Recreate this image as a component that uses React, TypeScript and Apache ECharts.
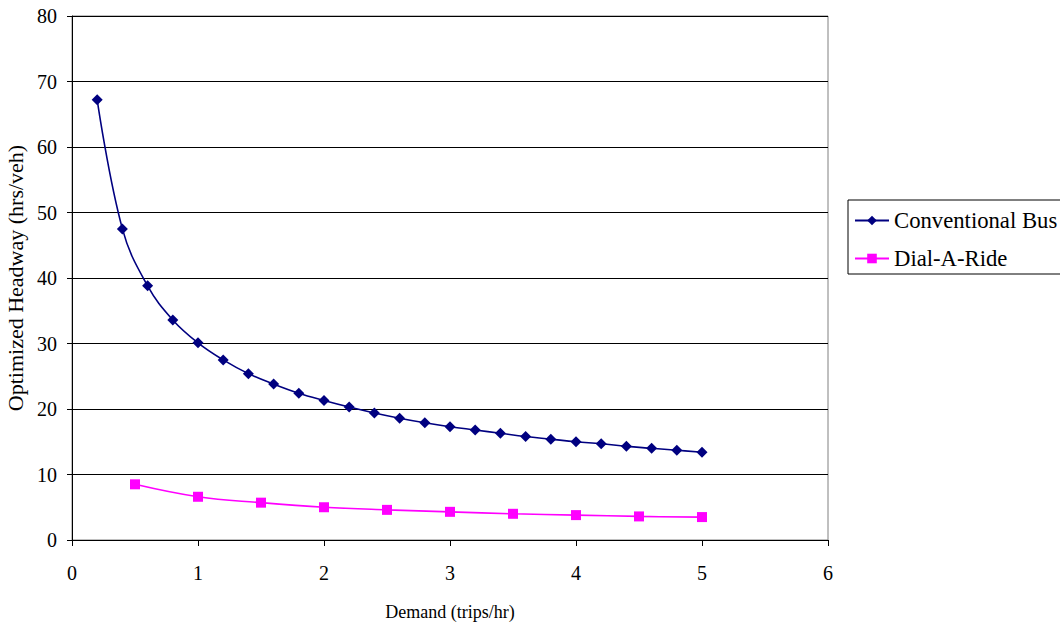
import React, { useEffect, useRef } from "react";
import * as echarts from "echarts";

const busX = [0.2, 0.4, 0.6, 0.8, 1.0, 1.2, 1.4, 1.6, 1.8, 2.0, 2.2, 2.4, 2.6, 2.8, 3.0, 3.2, 3.4, 3.6, 3.8, 4.0, 4.2, 4.4, 4.6, 4.8, 5.0];
const busY = [67.2, 47.5, 38.8, 33.6, 30.1, 27.5, 25.4, 23.8, 22.4, 21.3, 20.3, 19.4, 18.6, 17.9, 17.3, 16.8, 16.3, 15.8, 15.4, 15.0, 14.7, 14.3, 14.0, 13.7, 13.4];
const darX = [0.5, 1.0, 1.5, 2.0, 2.5, 3.0, 3.5, 4.0, 4.5, 5.0];
const darY = [8.5, 6.6, 5.7, 5.0, 4.6, 4.3, 4.0, 3.8, 3.6, 3.5];

const FONT = "Times New Roman, Liberation Serif, DejaVu Serif, serif";

export default function App() {
  const ref = useRef<HTMLDivElement>(null);
  useEffect(() => {
    const chart = echarts.init(ref.current!, null, { renderer: "svg" });
    chart.setOption({
      animation: false,
      backgroundColor: "#ffffff",
      textStyle: { fontFamily: FONT, color: "#000" },
      grid: {
        left: 72, top: 16, right: 232, bottom: 86,
        containLabel: false,
        outerBoundsMode: "none",
        show: true, borderColor: "#808080", borderWidth: 1,
      },
      legend: {
        orient: "vertical",
        left: 848, top: 200,
        width: 240,
        backgroundColor: "#fff",
        borderColor: "#000", borderWidth: 1, borderRadius: 0,
        padding: [9, 8, 4, 6],
        itemGap: 15,
        itemWidth: 34, itemHeight: 12,
        textStyle: { fontFamily: FONT, fontSize: 22.7, lineHeight: 22, color: "#000" },
        data: ["Conventional Bus", "Dial-A-Ride"],
      },
      xAxis: {
        type: "value",
        min: 0, max: 6, interval: 1,
        name: "Demand (trips/hr)",
        nameLocation: "middle",
        nameGap: 63,
        nameTextStyle: { fontFamily: FONT, fontSize: 18, color: "#000" },
        axisLine: { show: true, onZero: false, lineStyle: { color: "#000", width: 1 } },
        axisTick: { show: true, inside: false, length: 6, lineStyle: { color: "#000" } },
        axisLabel: { fontFamily: FONT, fontSize: 20, color: "#000", margin: 23 },
        splitLine: { show: false },
      },
      yAxis: {
        type: "value",
        min: 0, max: 80, interval: 10,
        name: "Optimized Headway (hrs/veh)",
        nameLocation: "middle",
        nameGap: 41,
        nameRotate: 90,
        nameTextStyle: { fontFamily: FONT, fontSize: 22, color: "#000" },
        axisLine: { show: true, lineStyle: { color: "#000", width: 1 } },
        axisTick: { show: true, inside: false, length: 5, lineStyle: { color: "#000" } },
        axisLabel: { fontFamily: FONT, fontSize: 20, color: "#000", margin: 15 },
        splitLine: { show: true, lineStyle: { color: "#000", width: 1 } },
      },
      series: [
        {
          name: "Conventional Bus",
          type: "line",
          smooth: 0.4,
          data: busX.map((x, i) => [x, busY[i]]),
          symbol: "diamond",
          symbolSize: 11,
          lineStyle: { color: "#000080", width: 1.6 },
          itemStyle: { color: "#000080" },
          z: 3,
        },
        {
          name: "Dial-A-Ride",
          type: "line",
          smooth: 0.4,
          data: darX.map((x, i) => [x, darY[i]]),
          symbol: "rect",
          symbolSize: 10,
          lineStyle: { color: "#ff00ff", width: 1.6 },
          itemStyle: { color: "#ff00ff" },
          z: 3,
        },
      ],
    });
    return () => chart.dispose();
  }, []);
  return (
    <div style={{ position: "fixed", left: 0, top: 0, width: 1060, height: 626, background: "#fff" }}>
      <div ref={ref} style={{ width: 1060, height: 626 }} />
    </div>
  );
}
